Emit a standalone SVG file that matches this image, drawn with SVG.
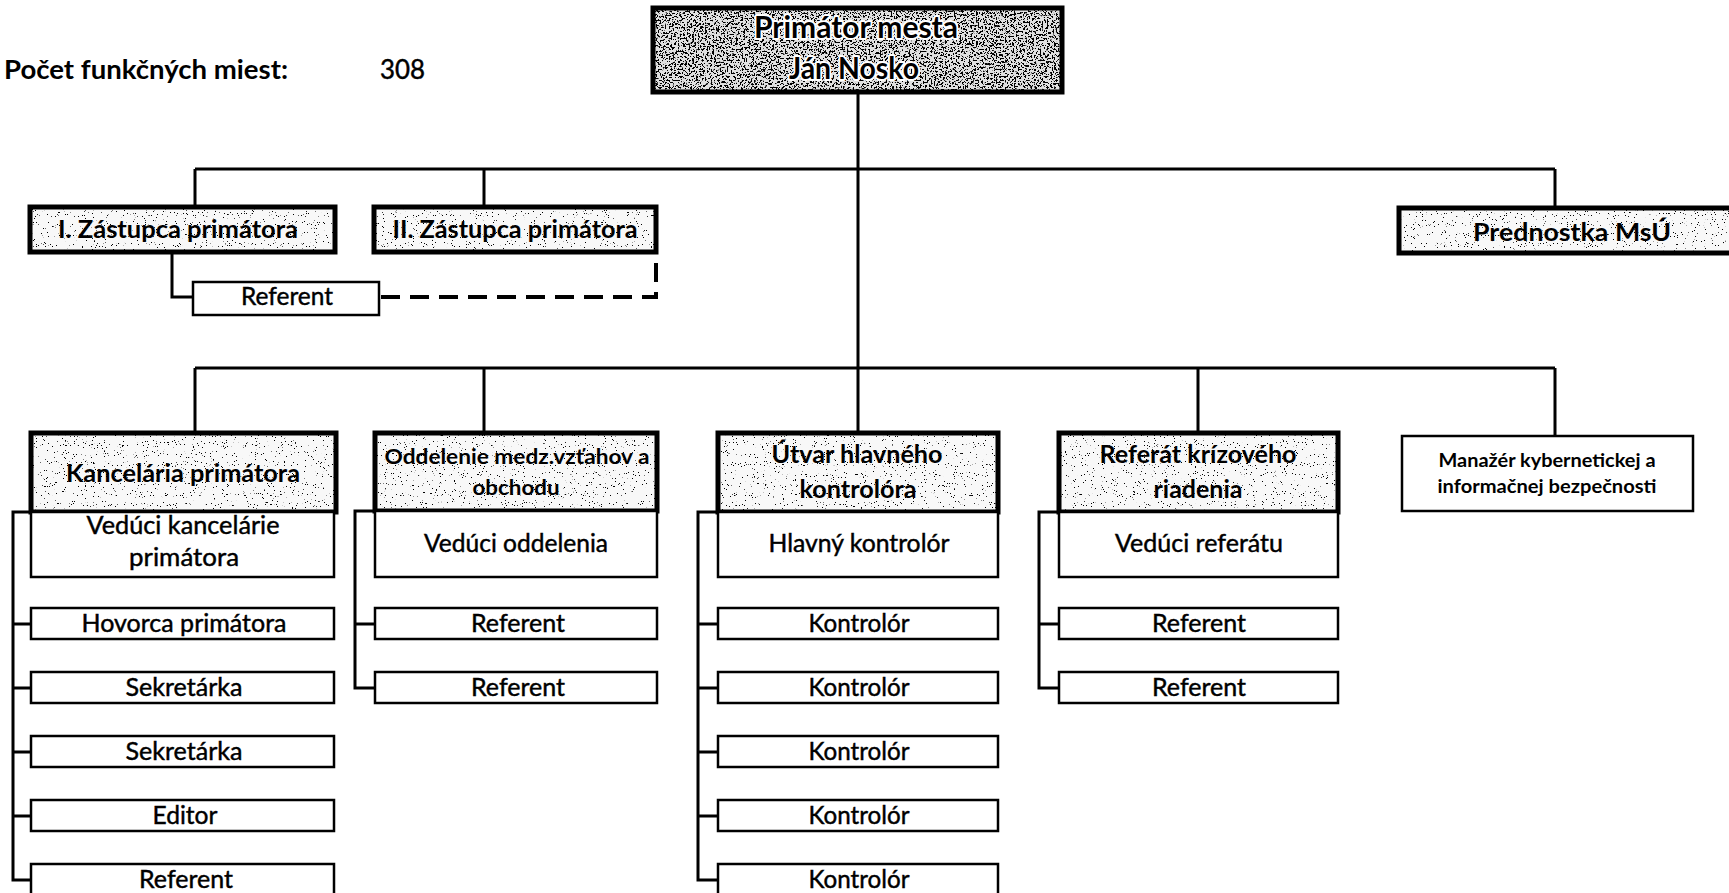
<svg xmlns="http://www.w3.org/2000/svg" width="1729" height="893" viewBox="0 0 1729 893">
<style>
  .b { font-family: Lato, "Liberation Sans", sans-serif; font-weight: bold; fill: #000; }
  .r { font-family: Lato, "Liberation Sans", sans-serif; font-weight: normal; fill: #000; stroke: #000; stroke-width: 0.45; }
  .m { text-anchor: middle; }
  .thick { fill: none; stroke: #000; stroke-width: 5; }
  .thin { fill: #fff; stroke: #000; stroke-width: 2.5; }
  .base { fill: #f8f8f8; }
  .halo { stroke: #fff; stroke-width: 4; paint-order: stroke; stroke-linejoin: round; }
  .conn { fill: none; stroke: #000; stroke-width: 3; }
  .dash { fill: none; stroke: #000; stroke-width: 4; stroke-dasharray: 19 10; }
</style>
<defs>
  <filter id="speckL" x="0" y="0" width="1" height="1" filterUnits="objectBoundingBox">
    <feTurbulence type="fractalNoise" baseFrequency="0.9" numOctaves="2" seed="7" result="n"/>
    <feColorMatrix in="n" type="matrix" values="0 0 0 0 0  0 0 0 0 0  0 0 0 0 0  -30 0 0 0 9" result="d"/>
    <feComposite in="d" in2="SourceAlpha" operator="in"/>
  </filter>
  <filter id="speckH" x="0" y="0" width="1" height="1" filterUnits="objectBoundingBox">
    <feTurbulence type="fractalNoise" baseFrequency="0.55" numOctaves="3" seed="11" result="n"/>
    <feColorMatrix in="n" type="matrix" values="0 0 0 0 0  0 0 0 0 0  0 0 0 0 0  -25 0 0 0 11.4" result="d"/>
    <feComposite in="d" in2="SourceAlpha" operator="in"/>
  </filter>
</defs>
<rect width="1729" height="893" fill="#fff"/>

<g id="title">
  <text class="b" x="4" y="79" font-size="26" textLength="284" lengthAdjust="spacingAndGlyphs">Počet funkčných miest:</text>
  <text class="r" x="380" y="79" font-size="26" textLength="45" lengthAdjust="spacingAndGlyphs">308</text>
</g>

<g id="connectors">
  <path class="conn" d="M858,92 V368"/>
  <path class="conn" d="M195,169 H1555"/>
  <path class="conn" d="M195,169 V207 M484,169 V207 M1555,169 V208"/>
  <path class="conn" d="M195,368 H1555"/>
  <path class="conn" d="M195,368 V433 M484,368 V433 M858,368 V433 M1198,368 V433 M1555,368 V435"/>
  <path class="conn" d="M172,252 V297 H193"/>
  <path class="dash" d="M381,297 H656 V252"/>
  <path class="conn" d="M31,512 H13 V880 H31 M13,624 H31 M13,688 H31 M13,752 H31 M13,816 H31"/>
  <path class="conn" d="M375,511 H355 V688 H375 M355,624 H375"/>
  <path class="conn" d="M718,512 H698 V880 H718 M698,624 H718 M698,688 H718 M698,752 H718 M698,816 H718"/>
  <path class="conn" d="M1059,512 H1039 V688 H1059 M1039,624 H1059"/>
</g>

<g id="primator">
  <rect x="653" y="8" width="409" height="84" fill="#e0e0e0"/>
  <rect x="653" y="8" width="409" height="84" fill="#fff" filter="url(#speckH)"/>
  <rect class="thick" x="653" y="8" width="409" height="84"/>
  <text class="b m halo" x="856" y="38" font-size="31" textLength="204" lengthAdjust="spacingAndGlyphs">Primátor mesta</text>
  <text class="b m halo" x="854" y="79" font-size="31" textLength="130" lengthAdjust="spacingAndGlyphs">Ján Nosko</text>
</g>

<g id="zastupca1">
  <rect class="base" x="30" y="207" width="305" height="45"/>
  <rect x="30" y="207" width="305" height="45" fill="#fff" filter="url(#speckL)"/>
  <rect class="thick" x="30" y="207" width="305" height="45"/>
  <text class="b m" x="178" y="238" font-size="24" textLength="240" lengthAdjust="spacingAndGlyphs">I. Zástupca primátora</text>
</g>
<g id="zastupca2">
  <rect class="base" x="374" y="207" width="282" height="45"/>
  <rect x="374" y="207" width="282" height="45" fill="#fff" filter="url(#speckL)"/>
  <rect class="thick" x="374" y="207" width="282" height="45"/>
  <text class="b m" x="515" y="238" font-size="24" textLength="245" lengthAdjust="spacingAndGlyphs">II. Zástupca primátora</text>
</g>
<g id="prednostka">
  <rect class="base" x="1399" y="208" width="340" height="45"/>
  <rect x="1399" y="208" width="340" height="45" fill="#fff" filter="url(#speckL)"/>
  <rect class="thick" x="1399" y="208" width="340" height="45"/>
  <text class="b m" x="1572" y="241" font-size="24" textLength="198" lengthAdjust="spacingAndGlyphs">Prednostka MsÚ</text>
</g>
<g id="referent-zastupca">
  <rect class="thin" x="193" y="282" width="186" height="33"/>
  <text class="r m" x="287" y="305" font-size="25" textLength="92" lengthAdjust="spacingAndGlyphs">Referent</text>
</g>

<g id="kancelaria">
  <rect class="base" x="31" y="433" width="305" height="79"/>
  <rect x="31" y="433" width="305" height="79" fill="#fff" filter="url(#speckL)"/>
  <rect class="thick" x="31" y="433" width="305" height="79"/>
  <text class="b m" x="183" y="482" font-size="24" textLength="234" lengthAdjust="spacingAndGlyphs">Kancelária primátora</text>
  <rect class="thin" x="31" y="512" width="303" height="65"/>
  <text class="r m" x="183" y="534" font-size="25" textLength="193" lengthAdjust="spacingAndGlyphs">Vedúci kancelárie</text>
  <text class="r m" x="184" y="566" font-size="25" textLength="110" lengthAdjust="spacingAndGlyphs">primátora</text>
</g>
<g id="kancelaria-staff">
  <rect class="thin" x="31" y="608" width="303" height="31"/>
  <text class="r m" x="184" y="632" font-size="25" textLength="205" lengthAdjust="spacingAndGlyphs">Hovorca primátora</text>
  <rect class="thin" x="31" y="672" width="303" height="31"/>
  <text class="r m" x="184" y="696" font-size="25" textLength="117" lengthAdjust="spacingAndGlyphs">Sekretárka</text>
  <rect class="thin" x="31" y="736" width="303" height="31"/>
  <text class="r m" x="184" y="760" font-size="25" textLength="117" lengthAdjust="spacingAndGlyphs">Sekretárka</text>
  <rect class="thin" x="31" y="800" width="303" height="31"/>
  <text class="r m" x="185" y="824" font-size="25" textLength="65" lengthAdjust="spacingAndGlyphs">Editor</text>
  <rect class="thin" x="31" y="864" width="303" height="34"/>
  <text class="r m" x="186" y="888" font-size="25" textLength="94" lengthAdjust="spacingAndGlyphs">Referent</text>
</g>

<g id="oddelenie">
  <rect class="base" x="375" y="433" width="282" height="78"/>
  <rect x="375" y="433" width="282" height="78" fill="#fff" filter="url(#speckL)"/>
  <rect class="thick" x="375" y="433" width="282" height="78"/>
  <text class="b m" x="517" y="464" font-size="21" textLength="265" lengthAdjust="spacingAndGlyphs">Oddelenie medz.vzťahov a</text>
  <text class="b m" x="516" y="495" font-size="21" textLength="87" lengthAdjust="spacingAndGlyphs">obchodu</text>
  <rect class="thin" x="375" y="511" width="282" height="66"/>
  <text class="r m" x="516" y="552" font-size="25" textLength="184" lengthAdjust="spacingAndGlyphs">Vedúci oddelenia</text>
</g>
<g id="oddelenie-staff">
  <rect class="thin" x="375" y="608" width="282" height="31"/>
  <text class="r m" x="518" y="632" font-size="25" textLength="94" lengthAdjust="spacingAndGlyphs">Referent</text>
  <rect class="thin" x="375" y="672" width="282" height="31"/>
  <text class="r m" x="518" y="696" font-size="25" textLength="94" lengthAdjust="spacingAndGlyphs">Referent</text>
</g>

<g id="utvar">
  <rect class="base" x="718" y="433" width="280" height="79"/>
  <rect x="718" y="433" width="280" height="79" fill="#fff" filter="url(#speckL)"/>
  <rect class="thick" x="718" y="433" width="280" height="79"/>
  <text class="b m" x="857" y="463" font-size="24" textLength="171" lengthAdjust="spacingAndGlyphs">Útvar hlavného</text>
  <text class="b m" x="858" y="498" font-size="24" textLength="117" lengthAdjust="spacingAndGlyphs">kontrolóra</text>
  <rect class="thin" x="718" y="512" width="280" height="65"/>
  <text class="r m" x="859" y="552" font-size="25" textLength="181" lengthAdjust="spacingAndGlyphs">Hlavný kontrolór</text>
</g>
<g id="utvar-staff">
  <rect class="thin" x="718" y="608" width="280" height="31"/>
  <text class="r m" x="859" y="632" font-size="25" textLength="101" lengthAdjust="spacingAndGlyphs">Kontrolór</text>
  <rect class="thin" x="718" y="672" width="280" height="31"/>
  <text class="r m" x="859" y="696" font-size="25" textLength="101" lengthAdjust="spacingAndGlyphs">Kontrolór</text>
  <rect class="thin" x="718" y="736" width="280" height="31"/>
  <text class="r m" x="859" y="760" font-size="25" textLength="101" lengthAdjust="spacingAndGlyphs">Kontrolór</text>
  <rect class="thin" x="718" y="800" width="280" height="31"/>
  <text class="r m" x="859" y="824" font-size="25" textLength="101" lengthAdjust="spacingAndGlyphs">Kontrolór</text>
  <rect class="thin" x="718" y="864" width="280" height="34"/>
  <text class="r m" x="859" y="888" font-size="25" textLength="101" lengthAdjust="spacingAndGlyphs">Kontrolór</text>
</g>

<g id="referat">
  <rect class="base" x="1059" y="433" width="279" height="79"/>
  <rect x="1059" y="433" width="279" height="79" fill="#fff" filter="url(#speckL)"/>
  <rect class="thick" x="1059" y="433" width="279" height="79"/>
  <text class="b m" x="1198" y="463" font-size="24" textLength="197" lengthAdjust="spacingAndGlyphs">Referát krízového</text>
  <text class="b m" x="1198" y="498" font-size="24" textLength="89" lengthAdjust="spacingAndGlyphs">riadenia</text>
  <rect class="thin" x="1059" y="512" width="279" height="65"/>
  <text class="r m" x="1199" y="552" font-size="25" textLength="168" lengthAdjust="spacingAndGlyphs">Vedúci referátu</text>
</g>
<g id="referat-staff">
  <rect class="thin" x="1059" y="608" width="279" height="31"/>
  <text class="r m" x="1199" y="632" font-size="25" textLength="94" lengthAdjust="spacingAndGlyphs">Referent</text>
  <rect class="thin" x="1059" y="672" width="279" height="31"/>
  <text class="r m" x="1199" y="696" font-size="25" textLength="94" lengthAdjust="spacingAndGlyphs">Referent</text>
</g>

<g id="manazer">
  <rect class="thin" x="1402" y="436" width="291" height="75"/>
  <text class="b m" x="1547" y="467" font-size="19.5" textLength="217" lengthAdjust="spacingAndGlyphs">Manažér kybernetickej a</text>
  <text class="b m" x="1547" y="493" font-size="19.5" textLength="219" lengthAdjust="spacingAndGlyphs">informačnej bezpečnosti</text>
</g>
</svg>
